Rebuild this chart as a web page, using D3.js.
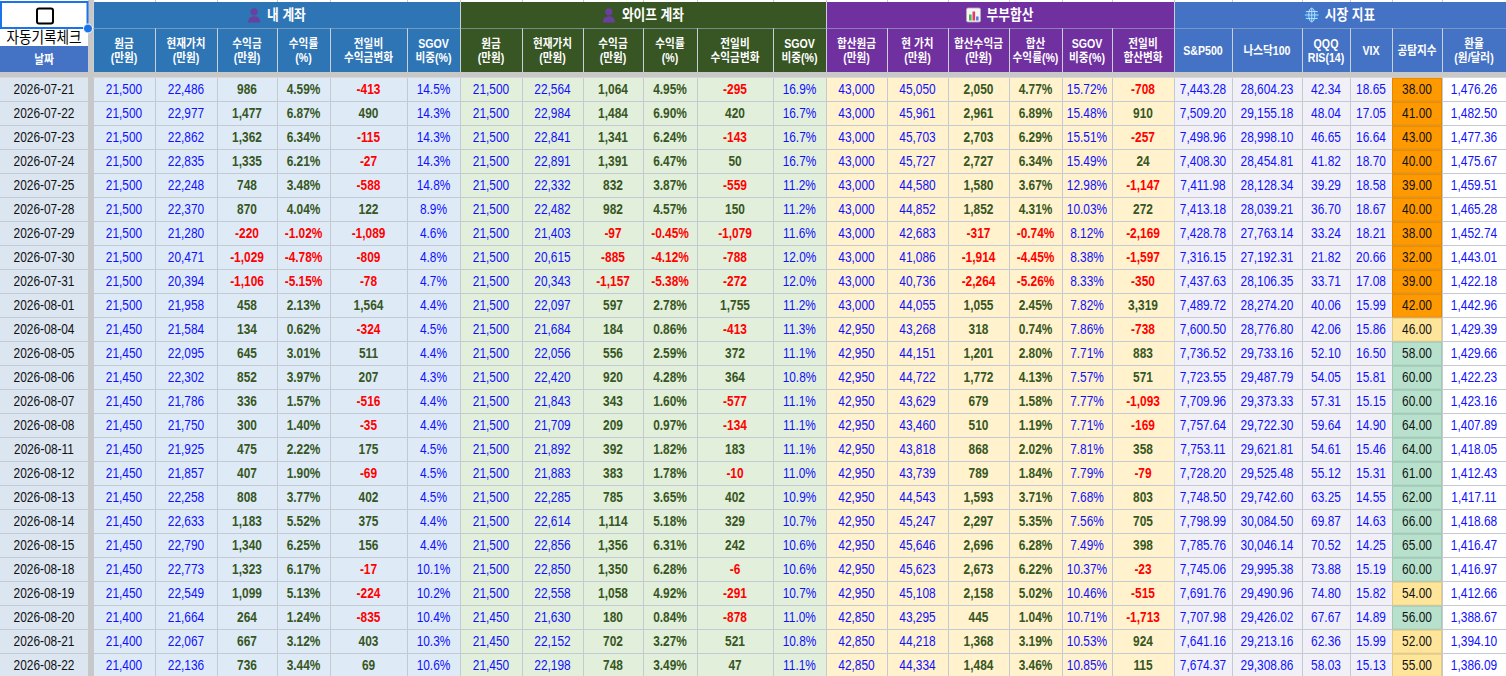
<!DOCTYPE html>
<html><head><meta charset="utf-8">
<script src="https://cdn.jsdelivr.net/npm/d3@7"></script>
<style>
html,body{margin:0;padding:0;background:#fff;overflow:hidden}
svg{display:block}
text{font-family:"Liberation Sans","Noto Sans CJK KR",Arial,sans-serif}
</style></head><body>
<svg id="c" width="1506" height="676"></svg>
<script>
// ---------------- DATA ----------------
const dates = ["2026-07-21","2026-07-22","2026-07-23","2026-07-24","2026-07-25","2026-07-28","2026-07-29","2026-07-30","2026-07-31","2026-08-01","2026-08-04","2026-08-05","2026-08-06","2026-08-07","2026-08-08","2026-08-11","2026-08-12","2026-08-13","2026-08-14","2026-08-15","2026-08-18","2026-08-19","2026-08-20","2026-08-21","2026-08-22"];

// 내 계좌
const myPrincipal = [21500,21500,21500,21500,21500,21500,21500,21500,21500,21500,21450,21450,21450,21450,21450,21450,21450,21450,21450,21450,21450,21450,21400,21400,21400];
const myValue = [22486,22977,22862,22835,22248,22370,21280,20471,20394,21958,21584,22095,22302,21786,21750,21925,21857,22258,22633,22790,22773,22549,21664,22067,22136];
const myProfit = [986,1477,1362,1335,748,870,-220,-1029,-1106,458,134,645,852,336,300,475,407,808,1183,1340,1323,1099,264,667,736];
const myReturn = [4.59,6.87,6.34,6.21,3.48,4.04,-1.02,-4.78,-5.15,2.13,0.62,3.01,3.97,1.57,1.40,2.22,1.90,3.77,5.52,6.25,6.17,5.13,1.24,3.12,3.44];
const myDaily = [-413,490,-115,-27,-588,122,-1089,-809,-78,1564,-324,511,207,-516,-35,175,-69,402,375,156,-17,-224,-835,403,69];
const mySgov = [14.5,14.3,14.3,14.3,14.8,8.9,4.6,4.8,4.7,4.4,4.5,4.4,4.3,4.4,4.4,4.5,4.5,4.5,4.4,4.4,10.1,10.2,10.4,10.3,10.6];

// 와이프 계좌
const wifePrincipal = [21500,21500,21500,21500,21500,21500,21500,21500,21500,21500,21500,21500,21500,21500,21500,21500,21500,21500,21500,21500,21500,21500,21450,21450,21450];
const wifeValue = [22564,22984,22841,22891,22332,22482,21403,20615,20343,22097,21684,22056,22420,21843,21709,21892,21883,22285,22614,22856,22850,22558,21630,22152,22198];
const wifeProfit = [1064,1484,1341,1391,832,982,-97,-885,-1157,597,184,556,920,343,209,392,383,785,1114,1356,1350,1058,180,702,748];
const wifeReturn = [4.95,6.90,6.24,6.47,3.87,4.57,-0.45,-4.12,-5.38,2.78,0.86,2.59,4.28,1.60,0.97,1.82,1.78,3.65,5.18,6.31,6.28,4.92,0.84,3.27,3.49];
const wifeDaily = [-295,420,-143,50,-559,150,-1079,-788,-272,1755,-413,372,364,-577,-134,183,-10,402,329,242,-6,-291,-878,521,47];
const wifeSgov = [16.9,16.7,16.7,16.7,11.2,11.2,11.6,12.0,12.0,11.2,11.3,11.1,10.8,11.1,11.1,11.1,11.0,10.9,10.7,10.6,10.6,10.7,11.0,10.8,11.1];

// 부부합산
const sumPrincipal = [43000,43000,43000,43000,43000,43000,43000,43000,43000,43000,42950,42950,42950,42950,42950,42950,42950,42950,42950,42950,42950,42950,42850,42850,42850];
const sumValue = [45050,45961,45703,45727,44580,44852,42683,41086,40736,44055,43268,44151,44722,43629,43460,43818,43739,44543,45247,45646,45623,45108,43295,44218,44334];
const sumProfit = [2050,2961,2703,2727,1580,1852,-317,-1914,-2264,1055,318,1201,1772,679,510,868,789,1593,2297,2696,2673,2158,445,1368,1484];
const sumReturn = [4.77,6.89,6.29,6.34,3.67,4.31,-0.74,-4.45,-5.26,2.45,0.74,2.80,4.13,1.58,1.19,2.02,1.84,3.71,5.35,6.28,6.22,5.02,1.04,3.19,3.46];
const sumSgov = [15.72,15.48,15.51,15.49,12.98,10.03,8.12,8.38,8.33,7.82,7.86,7.71,7.57,7.77,7.71,7.81,7.79,7.68,7.56,7.49,10.37,10.46,10.71,10.53,10.85];
const sumDaily = [-708,910,-257,24,-1147,272,-2169,-1597,-350,3319,-738,883,571,-1093,-169,358,-79,803,705,398,-23,-515,-1713,924,115];

// 시장 지표
const sp500 = [7443.28,7509.20,7498.96,7408.30,7411.98,7413.18,7428.78,7316.15,7437.63,7489.72,7600.50,7736.52,7723.55,7709.96,7757.64,7753.11,7728.20,7748.50,7798.99,7785.76,7745.06,7691.76,7707.98,7641.16,7674.37];
const nasdaq100 = [28604.23,29155.18,28998.10,28454.81,28128.34,28039.21,27763.14,27192.31,28106.35,28274.20,28776.80,29733.16,29487.79,29373.33,29722.30,29621.81,29525.48,29742.60,30084.50,30046.14,29995.38,29490.96,29426.02,29213.16,29308.86];
const qqqRsi = [42.34,48.04,46.65,41.82,39.29,36.70,33.24,21.82,33.71,40.06,42.06,52.10,54.05,57.31,59.64,54.61,55.12,63.25,69.87,70.52,73.88,74.80,67.67,62.36,58.03];
const vix = [18.65,17.05,16.64,18.70,18.58,18.67,18.21,20.66,17.08,15.99,15.86,16.50,15.81,15.15,14.90,15.46,15.31,14.55,14.63,14.25,15.19,15.82,14.89,15.99,15.13];
const fearGreed = [38,41,43,40,39,40,38,32,39,42,46,58,60,60,64,64,61,62,66,65,60,54,56,52,55];
const fxRate = [1476.26,1482.50,1477.36,1475.67,1459.51,1465.28,1452.74,1443.01,1422.18,1442.96,1429.39,1429.66,1422.23,1423.16,1407.89,1418.05,1412.43,1417.11,1418.68,1416.47,1416.97,1412.66,1388.67,1394.10,1386.09];

// Header labels
const groupTitles = ["내 계좌","와이프 계좌","부부합산","시장 지표"];
const subHeaders = [
  ["원금","(만원)"],["현재가치","(만원)"],["수익금","(만원)"],["수익률","(%)"],["전일비","수익금변화"],["SGOV","비중(%)"],
  ["원금","(만원)"],["현재가치","(만원)"],["수익금","(만원)"],["수익률","(%)"],["전일비","수익금변화"],["SGOV","비중(%)"],
  ["합산원금","(만원)"],["현 가치","(만원)"],["합산수익금","(만원)"],["합산","수익률(%)"],["SGOV","비중(%)"],["전일비","합산변화"],
  ["S&P500"],["나스닥100"],["QQQ","RIS(14)"],["VIX"],["공탐지수"],["환율","(원/달러)"]
];

// ---------------- LAYOUT / STYLE ----------------
const L = d3.formatLocale({decimal:".",thousands:",",grouping:[3],currency:["",""],minus:"-"});
const fInt = L.format(",d");
const f2 = L.format(".2f"), f1 = L.format(".1f"), fDec = L.format(",.2f");
const fP2 = v => f2(v) + "%";
const fP1 = v => f1(v) + "%";

const edges = [93,155,217,277,330,407,460,522,583,643,697,773,826,887,948,1009,1062,1112,1174,1232,1302,1350,1392,1442,1506];
const groupStyle = [
  {head:"#2e75b6", bg:"#deebf7", icon:"person"},
  {head:"#375623", bg:"#e2efda", icon:"person"},
  {head:"#7030a0", bg:"#fff2cc", icon:"chart"},
  {head:"#4472c4", bg:"#f0f0f6", icon:"globe"}
];
const SX = 0.85;
const BLUE = "#1010ff", GREEN = "#375623", RED = "#ff0000";
const colData = [
  [myPrincipal,fInt,"blue"],[myValue,fInt,"blue"],[myProfit,fInt,"pnl"],[myReturn,fP2,"pnl"],[myDaily,fInt,"pnl"],[mySgov,fP1,"blue"],
  [wifePrincipal,fInt,"blue"],[wifeValue,fInt,"blue"],[wifeProfit,fInt,"pnl"],[wifeReturn,fP2,"pnl"],[wifeDaily,fInt,"pnl"],[wifeSgov,fP1,"blue"],
  [sumPrincipal,fInt,"blue"],[sumValue,fInt,"blue"],[sumProfit,fInt,"pnl"],[sumReturn,fP2,"pnl"],[sumSgov,fP2,"blue"],[sumDaily,fInt,"pnl"],
  [sp500,fDec,"blue"],[nasdaq100,fDec,"blue"],[qqqRsi,f2,"blue"],[vix,f2,"blue"],[fearGreed,f2,"fg"],[fxRate,fDec,"fx"]
];
const fgColor = v => v <= 45 ? "#ff9900" : (v <= 55 ? "#ffe599" : "#b7e1cd");

const svg = d3.select("#c");
const W = 1506, H = 676;
const TOP = 77.7, RH = 24;
const y = d3.scaleBand().domain(dates).range([TOP, TOP + RH*dates.length]);
const colIdx = d3.range(colData.length);
const xL = d3.scaleOrdinal().domain(colIdx).range(edges.slice(0,-1));
const xR = d3.scaleOrdinal().domain(colIdx).range(edges.slice(1));
const gOf = i => Math.floor(i/6);

svg.append("rect").attr("width",W).attr("height",H).attr("fill","#fff");

// ---- data backgrounds
const cells = [];
colIdx.forEach(ci => dates.forEach((d,ri) => cells.push({ci, ri, d, v: colData[ci][0][ri]})));
svg.append("g").selectAll("rect").data(cells).join("rect")
  .attr("x", c => xL(c.ci)).attr("y", c => y(c.d))
  .attr("width", c => xR(c.ci) - xL(c.ci)).attr("height", y.bandwidth())
  .attr("fill", c => {
    const k = colData[c.ci][2];
    if (k === "fg") return fgColor(c.v);
    if (k === "fx") return "#ffffff";
    return groupStyle[gOf(c.ci)].bg;
  });
svg.append("g").selectAll("rect").data(dates).join("rect")
  .attr("x",0).attr("y", d => y(d)).attr("width",88).attr("height",y.bandwidth()).attr("fill","#dce6f1");

const grid = svg.append("g").attr("stroke","#c3cad3").attr("stroke-width",1).attr("shape-rendering","crispEdges");
dates.forEach(d => grid.append("line").attr("x1",0).attr("x2",W).attr("y1",y(d)+RH).attr("y2",y(d)+RH));
edges.forEach(e => grid.append("line").attr("x1",e+0.5).attr("x2",e+0.5).attr("y1",TOP).attr("y2",H));
svg.append("g").selectAll("rect").data(cells.filter(c => colData[c.ci][2]==="fg")).join("rect")
  .attr("x", c => xL(c.ci)+0.5).attr("y", c => y(c.d)+0.5)
  .attr("width", c => xR(c.ci)-xL(c.ci)-1).attr("height", RH-1)
  .attr("fill","none").attr("stroke", c => d3.color(fgColor(c.v)).darker(0.35)).attr("stroke-width",1);

svg.append("rect").attr("x",0).attr("y",72).attr("width",W).attr("height",TOP-72).attr("fill","#c8c8c8");
svg.append("rect").attr("x",88).attr("y",0).attr("width",5).attr("height",H).attr("fill","#c8c8c8");

// ---- headers
const topStrip = svg.append("g").attr("stroke","#c8c8c8").attr("shape-rendering","crispEdges");
edges.forEach(e => topStrip.append("line").attr("x1",e+0.5).attr("x2",e+0.5).attr("y1",0).attr("y2",3));

groupTitles.forEach((t,g) => {
  const x0 = edges[g*6], x1 = edges[g*6+6];
  svg.append("rect").attr("x",x0).attr("y",2).attr("width",x1-x0).attr("height",26).attr("fill",groupStyle[g].head);
});
colIdx.forEach(ci => {
  svg.append("rect").attr("x",xL(ci)).attr("y",28).attr("width",xR(ci)-xL(ci)).attr("height",44)
    .attr("fill",groupStyle[gOf(ci)].head);
});
const hg = svg.append("g").attr("stroke","#c9d0d8").attr("stroke-width",1).attr("shape-rendering","crispEdges");
edges.forEach((e,i) => hg.append("line").attr("x1",e+0.5).attr("x2",e+0.5).attr("y1", i%6===0 ? 2 : 28).attr("y2",72));
hg.append("line").attr("x1",93).attr("x2",W).attr("y1",28.5).attr("y2",28.5).attr("stroke","#9fb3c8").attr("stroke-opacity",0.6);

colIdx.forEach(ci => {
  const cx = (xL(ci)+xR(ci))/2;
  const lines = subHeaders[ci];
  const ys = lines.length === 2 ? [43.5, 57] : [50.5];
  lines.forEach((ln,k) => {
    svg.append("g").attr("transform",`translate(${cx},${ys[k]}) scale(${SX},1)`)
      .append("text").attr("text-anchor","middle").attr("dy","0.36em")
      .attr("fill","#fff").attr("font-size",12.5).attr("font-weight","bold").text(ln);
  });
});

function icon(g, type, cx, cy) {
  if (type === "person") {
    const c = "#6b3fa0";
    g.append("circle").attr("cx",cx).attr("cy",cy-3.2).attr("r",3.6).attr("fill",c);
    g.append("path").attr("d",`M${cx-6},${cy+7.5} Q${cx-6},${cy+1.2} ${cx},${cy+1.2} Q${cx+6},${cy+1.2} ${cx+6},${cy+7.5} Z`).attr("fill",c);
  } else if (type === "chart") {
    g.append("rect").attr("x",cx-7).attr("y",cy-7).attr("width",14).attr("height",14).attr("rx",1.5)
      .attr("fill","#f4f4f4").attr("stroke","#b0b0b0").attr("stroke-width",0.8);
    [["#4caf50",-4.5,6],["#e53966",-1,9],["#5b7fe0",2.5,4]].forEach(([col,dx,h]) =>
      g.append("rect").attr("x",cx+dx).attr("y",cy+5.5-h).attr("width",2.6).attr("height",h).attr("fill",col));
  } else {
    g.append("circle").attr("cx",cx).attr("cy",cy).attr("r",7).attr("fill","#3b8ad9").attr("stroke","#2a6fb8").attr("stroke-width",0.6);
    const s = g.append("g").attr("fill","none").attr("stroke","#cfe6fb").attr("stroke-width",0.8);
    s.append("ellipse").attr("cx",cx).attr("cy",cy).attr("rx",3).attr("ry",7);
    s.append("line").attr("x1",cx).attr("x2",cx).attr("y1",cy-7).attr("y2",cy+7);
    s.append("line").attr("x1",cx-7).attr("x2",cx+7).attr("y1",cy).attr("y2",cy);
    s.append("line").attr("x1",cx-6).attr("x2",cx+6).attr("y1",cy-3.5).attr("y2",cy-3.5);
    s.append("line").attr("x1",cx-6).attr("x2",cx+6).attr("y1",cy+3.5).attr("y2",cy+3.5);
  }
}
groupTitles.forEach((t,g) => {
  const x0 = edges[g*6], x1 = edges[g*6+6];
  const cx = (x0+x1)/2, cy = 15;
  const gg = svg.append("g");
  const tg = gg.append("g");
  const tx = tg.append("text").attr("dy","0.36em").attr("fill","#fff").attr("font-size",14.5).attr("font-weight","bold").text(t);
  const tw = tx.node().getComputedTextLength()*0.88;
  const total = 14 + 6 + tw;
  const start = cx - total/2;
  tg.attr("transform",`translate(${start+20},${cy}) scale(0.88,1)`);
  icon(gg, groupStyle[g].icon, start+7, cy);
});

// date header area
svg.append("rect").attr("x",0).attr("y",0).attr("width",88).attr("height",46).attr("fill","#fff");
svg.append("rect").attr("x",1).attr("y",2).attr("width",86.5).attr("height",26).attr("fill","#fff").attr("stroke","#1a73e8").attr("stroke-width",2);
svg.append("rect").attr("x",37).attr("y",8.5).attr("width",16).attr("height",15).attr("rx",2).attr("fill","#fff").attr("stroke","#000").attr("stroke-width",2);
svg.append("g").attr("transform","translate(44,37.5) scale(0.88,1)").append("text")
  .attr("text-anchor","middle").attr("dy","0.36em").attr("font-size",15.5).attr("fill","#000").text("자동기록체크");
svg.append("rect").attr("x",0).attr("y",46).attr("width",88).attr("height",26).attr("fill","#4472c4");
svg.append("g").attr("transform",`translate(44,59) scale(${SX},1)`).append("text")
  .attr("text-anchor","middle").attr("dy","0.36em").attr("font-size",12.5).attr("font-weight","bold").attr("fill","#fff").text("날짜");
svg.append("circle").attr("cx",88).attr("cy",28.5).attr("r",4.5).attr("fill","#1a73e8").attr("stroke","#fff").attr("stroke-width",1);

// ---- data texts
const tgAll = svg.append("g").attr("font-size",14);
tgAll.selectAll("g.dt").data(dates).join("g").attr("class","dt")
  .attr("transform", d => `translate(44,${y(d)+RH/2-0.5}) scale(${SX},1)`)
  .append("text").attr("text-anchor","middle").attr("dy","0.36em").attr("fill","#111").text(d => d);

tgAll.selectAll("g.cell").data(cells).join("g").attr("class","cell")
  .attr("transform", c => `translate(${(xL(c.ci)+xR(c.ci))/2},${y(c.d)+RH/2-0.5}) scale(${SX},1)`)
  .append("text").attr("text-anchor","middle").attr("dy","0.36em")
  .attr("font-weight", c => colData[c.ci][2]==="pnl" ? "bold" : "normal")
  .attr("fill", c => {
    const k = colData[c.ci][2];
    if (k === "pnl") return c.v < 0 ? RED : GREEN;
    if (k === "fg") return "#111";
    return BLUE;
  })
  .text(c => colData[c.ci][1](c.v));
</script>
</body></html>
